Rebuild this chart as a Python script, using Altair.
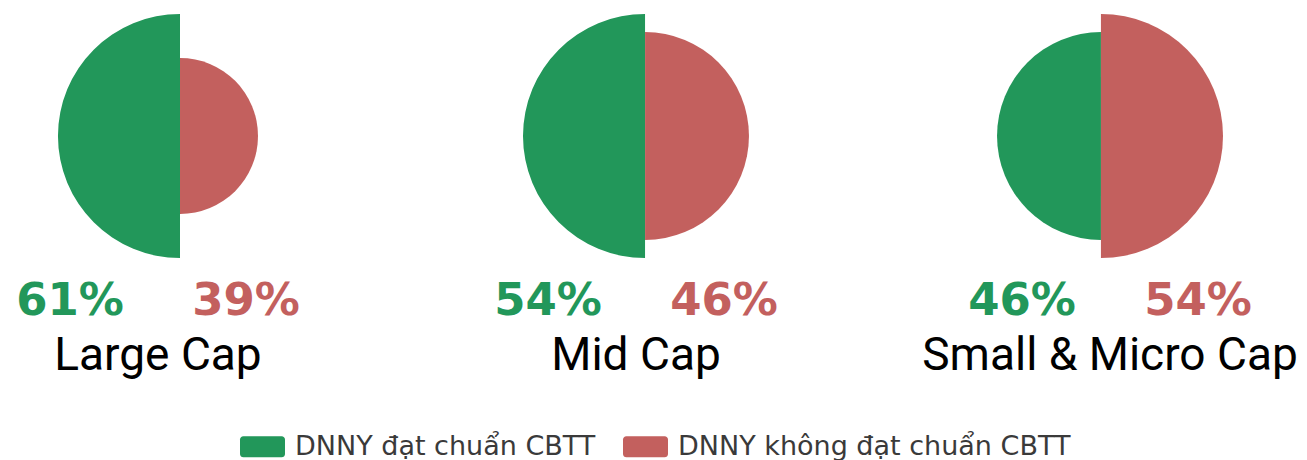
import altair as alt
import pandas as pd

# ---- data ----
categories = ["Large Cap", "Mid Cap", "Small & Micro Cap"]
dat_chuan = [61, 54, 46]          # DNNY đạt chuẩn CBTT (%)
khong_dat = [39, 46, 54]          # DNNY không đạt chuẩn CBTT (%)
statuses = ["DNNY đạt chuẩn CBTT", "DNNY không đạt chuẩn CBTT"]
colors = ["#22975A", "#C3605E"]

# ---- layout (pixels) ----
panel_x = [150, 628, 1102]   # centre of each panel
R = 122                      # radius of the larger half in each panel
LABEL_DX = 88

rows = []
for cat, px, g, r in zip(categories, panel_x, dat_chuan, khong_dat):
    rows.append({"category": cat, "px": px, "status": statuses[0], "value": g,
                 "t0": 1, "t1": 2, "sgn": 1})
    rows.append({"category": cat, "px": px, "status": statuses[1], "value": r,
                 "t0": 0, "t1": 1, "sgn": -1})
df = pd.DataFrame(rows)
cat_df = pd.DataFrame({"category": categories, "px": panel_x})

color_scale = alt.Scale(domain=statuses, range=colors)

base = alt.Chart(df).transform_calculate(
    signed="datum.value * datum.sgn"
).transform_joinaggregate(
    vmax="max(value)", diff="sum(signed)", groupby=["category"]
).transform_calculate(
    ratio="datum.value / datum.vmax",
    cx=f"datum.px + datum.diff / datum.vmax * {R} / 2",
    tx=f"datum.px + (datum.sgn > 0 ? -{LABEL_DX} : {LABEL_DX})",
    label="datum.value + '%'",
)

legend_path = ("M-0.85,-0.467 H0.85 A0.15,0.15 0 0 1 1,-0.317 V0.317 "
               "A0.15,0.15 0 0 1 0.85,0.467 H-0.85 A0.15,0.15 0 0 1 -1,0.317 "
               "V-0.317 A0.15,0.15 0 0 1 -0.85,-0.467 Z")

arcs = base.mark_arc().encode(
    x=alt.X("cx:Q", scale=None, stack=None),
    y=alt.value(128),
    theta=alt.Theta("t0:Q", scale=alt.Scale(domain=[0, 2]), stack=None),
    theta2="t1:Q",
    radius=alt.Radius("ratio:Q", stack=None,
                      scale=alt.Scale(type="linear", domain=[0, 1], range=[0, R])),
    color=alt.Color("status:N", scale=color_scale, sort=statuses,
                    legend=alt.Legend(
                        title=None, orient="none", direction="horizontal",
                        legendX=232, legendY=416,
                        symbolType=legend_path, symbolSize=2025,
                        symbolStrokeWidth=0, symbolOpacity=1,
                        labelFont="DejaVu Sans", labelFontSize=27,
                        labelColor="#3a3a3a", labelOffset=10,
                        labelLimit=800, columnPadding=27,
                    )),
)

pct = base.mark_text(font="DejaVu Sans", fontWeight="bold", fontSize=45,
                     align="center", baseline="alphabetic").encode(
    x=alt.X("tx:Q", scale=None, stack=None),
    y=alt.value(307),
    text="label:N",
    color=alt.Color("status:N", scale=color_scale, legend=None),
)

cats = alt.Chart(cat_df).mark_text(font="Roboto", fontSize=46, color="#000000",
                                   align="center", baseline="alphabetic").encode(
    x=alt.X("px:Q", scale=None),
    y=alt.value(362),
    text="category:N",
)

chart = alt.layer(arcs, pct, cats).properties(
    width=1291, height=452,
    autosize=alt.AutoSizeParams(type="none"),
    padding=0,
).configure_view(stroke=None)

chart.save("out.html", embed_options={"renderer": "svg", "actions": False})
